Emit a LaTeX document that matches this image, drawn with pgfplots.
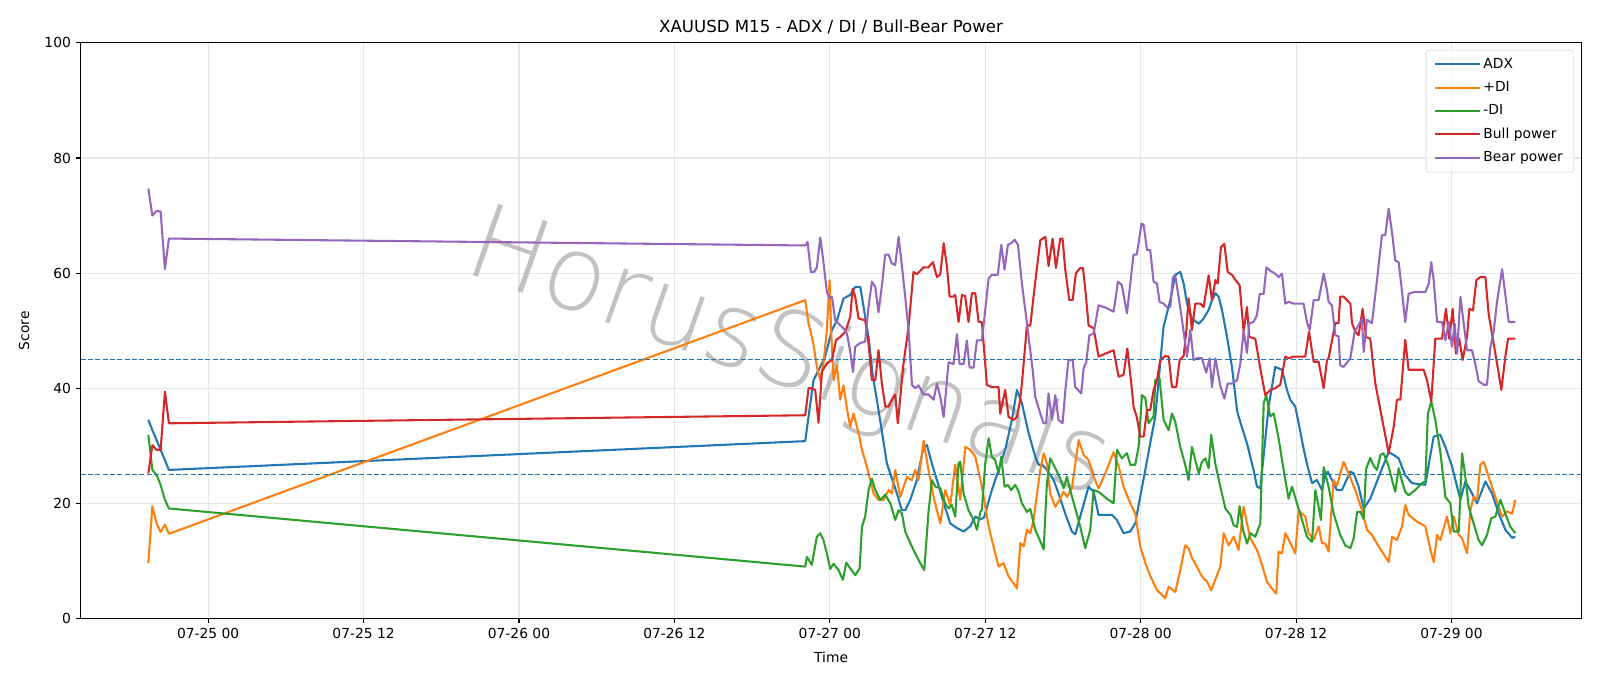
\documentclass[border=0pt]{standalone}
\usepackage{fontspec}
\setmainfont{DejaVu Sans}
\newfontfamily\wmfont{DejaVu Sans ExtraLight}
\usepackage{pgfplots}
\pgfplotsset{compat=1.18}
\definecolor{C0}{HTML}{1F77B4}
\definecolor{C1}{HTML}{FF7F0E}
\definecolor{C2}{HTML}{2CA02C}
\definecolor{C3}{HTML}{D62728}
\definecolor{C4}{HTML}{9467BD}
\begin{document}
\begin{tikzpicture}
\path[use as bounding box] (-0.806in,-0.676in) rectangle (15.194in,6.184in);
\begin{axis}[
  at={(0,0)}, anchor=south west,
  scale only axis, width=15.01in, height=5.755in,
  xmin=-57.85, xmax=58.05, ymin=0, ymax=100,
  xtick={-48,-36,-24,-12,0,12,24,36,48},
  xticklabels={07-25 00,07-25 12,07-26 00,07-26 12,07-27 00,07-27 12,07-28 00,07-28 12,07-29 00},
  ytick={0,20,40,60,80,100},
  /pgf/number format/assume math mode=true,
  tick align=outside, tick pos=left,
  major tick length=3.5pt,
  every tick/.style={black, line width=0.8pt},
  grid=major, grid style={line width=0.8pt, black!10},
  axis line style={line width=0.8pt},
  ticklabel style={font=\fontsize{10}{12}\selectfont},
  label style={font=\fontsize{10}{12}\selectfont},
  xlabel={Time}, ylabel={Score},
  xlabel style={yshift=-3pt},
  ylabel style={yshift=4pt},
  title={XAUUSD M15 - ADX / DI / Bull-Bear Power},
  title style={font=\fontsize{12}{14}\selectfont, yshift=-3pt},
  legend cell align=left,
  legend style={at={(0.995,0.988)}, anchor=north east, draw=black!20, rounded corners=2pt,
    fill=white, fill opacity=0.8, text opacity=1,
    font=\fontsize{10}{12}\selectfont, row sep=4pt, inner xsep=6pt, inner ysep=4pt},
  legend image code/.code={\draw[#1] (0pt,0pt) -- (24pt,0pt); \path (0pt,0pt) -- (32pt,0pt);},
  every axis plot/.append style={line width=1.5pt, line join=round},
]
\node[rotate=-19.5, text=black!40, opacity=0.6, font=\wmfont\fontsize{75}{75}\selectfont] at (axis cs:-3.2,45.4) {HorusSignals};

\addplot[C0] coordinates {
(-52.62,34.5) (-52.31,32.7) (-51.98,31.0) (-51.67,29.3) (-51.34,27.5) (-51.03,25.8)
(-1.9,30.8) (-1.26,41.4) (-0.74,43.7) (-0.36,45.5) (0.16,50.1) (0.55,51.8) (1.06,55.6) (1.58,56.2) (1.96,57.6) (2.35,57.6) (2.48,55.9) (2.73,52.4) (2.99,48.9) (3.3,42.5) (3.76,36.2) (4.41,26.9) (5.18,21.7) (5.56,18.8) (5.82,18.8) (6.21,20.6) (6.72,24.05) (7.24,29.8) (7.5,30.1) (7.88,26.9) (8.27,24.05) (8.79,20.0) (9.3,16.5) (9.81,15.7) (10.33,15.1) (10.84,16.0) (11.23,17.7) (11.62,17.2) (11.9,17.5) (12.51,22.3) (13.03,25.8) (13.54,29.3) (14.06,34.5) (14.45,39.7) (14.83,37.4) (15.35,32.2) (15.86,28.1) (16.12,26.7) (16.4,26.7) (16.76,25.8) (17.28,24.05) (17.66,21.7) (18.18,18.2) (18.69,15.1) (18.95,14.6) (19.47,18.8) (19.98,22.9) (20.37,22.0) (20.75,18.0) (21.78,18.0) (22.17,17.1) (22.68,14.8) (23.2,15.1) (23.58,16.5) (23.97,21.2) (24.36,25.8) (24.74,30.5) (25.13,35.1) (25.77,50.7) (26.29,55.3) (26.67,59.7) (27.06,60.2) (27.32,58.2) (27.58,54.7) (27.96,52.1) (28.48,51.2) (28.86,52.1) (29.25,53.6) (29.51,55.3) (29.77,56.5) (30.02,55.9) (30.28,53.6) (30.67,48.9) (31.05,43.7) (31.44,36.2) (31.56,35.1) (32.21,30.4) (32.72,25.8) (32.98,22.9) (33.24,22.6) (33.88,36.8) (34.39,43.7) (34.91,43.2) (35.3,39.7) (35.55,38.0) (35.94,36.8) (36.2,33.9) (36.6,29.3) (36.84,26.9) (37.23,23.5) (37.61,24.05) (38.0,22.3) (38.26,25.0) (38.45,25.5) (38.77,24.05) (39.15,22.3) (39.54,22.3) (40.19,25.5) (40.45,25.2) (40.83,22.9) (41.22,19.1) (41.73,20.8) (42.38,24.6) (43.15,28.9) (43.54,28.4) (43.92,27.8) (44.43,24.9) (44.95,23.5) (45.98,23.2) (46.37,28.4) (46.63,31.6) (47.14,31.9) (47.53,29.8) (48.04,26.4) (48.69,20.6) (49.07,23.8) (49.59,21.7) (49.97,20.0) (50.62,23.8) (51.13,21.7) (51.65,18.2) (52.16,15.4) (52.68,14.0) (52.93,14.2)
};
\addlegendentry{ADX}

\addplot[C1] coordinates {
(-52.62,9.6) (-52.31,19.5) (-51.98,16.5) (-51.67,15.0) (-51.34,16.3) (-51.03,14.7)
(-1.9,55.3) (-1.64,51.2) (-1.5,50.0) (-1.26,47.6) (-1.0,43.7) (-0.74,41.4) (-0.49,44.3) (-0.23,50.1) (-0.02,58.8) (0.1,50.0) (0.29,41.4) (0.55,44.0) (0.8,38.0) (1.06,40.5) (1.32,36.5) (1.57,33.3) (1.83,35.6) (2.22,32.2) (2.48,29.3) (2.86,26.4) (3.12,24.05) (3.38,21.7) (3.76,20.6) (4.15,20.6) (4.54,22.3) (4.79,21.7) (5.05,25.8) (5.44,21.1) (5.95,24.6) (6.33,24.0) (6.59,25.8) (6.85,24.05) (7.24,30.9) (7.62,25.8) (8.01,21.1) (8.53,16.5) (8.91,22.3) (9.3,19.7) (9.68,26.7) (10.07,20.6) (10.46,29.8) (10.84,29.3) (11.23,28.1) (11.74,22.9) (12.26,16.0) (12.64,12.5) (13.03,9.0) (13.41,9.6) (13.8,7.3) (14.19,6.1) (14.45,5.2) (14.71,13.1) (14.97,12.5) (15.22,15.4) (15.48,14.8) (15.74,17.2) (16.0,21.7) (16.25,25.8) (16.51,28.7) (16.76,26.9) (17.02,21.7) (17.41,19.4) (17.79,20.8) (18.05,22.0) (18.31,21.1) (18.69,22.6) (19.21,31.0) (19.6,28.4) (19.98,27.5) (20.37,24.6) (20.75,22.6) (21.27,25.2) (21.91,28.9) (22.3,26.4) (22.68,22.9) (23.2,20.0) (23.58,18.2) (23.97,12.5) (24.36,9.6) (24.74,7.4) (25.26,4.9) (25.64,4.1) (25.9,3.5) (26.16,5.5) (26.67,4.6) (27.06,8.4) (27.44,12.7) (27.7,12.2) (27.96,10.5) (28.35,9.0) (28.73,7.3) (29.12,6.4) (29.45,4.9) (29.76,6.7) (30.15,9.0) (30.41,14.8) (30.8,12.7) (31.18,14.2) (31.56,11.9) (31.95,19.4) (32.21,16.5) (32.47,13.9) (32.98,11.9) (33.37,9.3) (33.75,6.4) (34.14,5.2) (34.47,4.3) (34.65,11.6) (34.91,11.3) (35.17,14.8) (35.55,13.1) (35.94,11.3) (36.2,18.8) (36.46,18.2) (36.71,17.7) (36.97,14.8) (37.36,13.7) (37.74,16.0) (38.0,13.1) (38.25,13.0) (38.51,11.6) (38.77,20.0) (38.9,24.05) (39.15,23.0) (39.67,27.2) (40.06,25.2) (40.57,22.3) (41.09,18.8) (41.47,15.4) (41.86,14.5) (42.38,12.5) (43.15,9.8) (43.41,14.2) (43.79,13.6) (44.18,16.0) (44.43,19.7) (44.69,18.0) (45.33,16.8) (45.98,16.0) (46.37,11.9) (46.63,9.8) (46.89,14.5) (47.14,13.6) (47.65,17.7) (47.91,14.8) (48.17,17.7) (48.56,14.5) (48.82,13.9) (49.2,11.3) (49.46,18.8) (49.71,21.1) (49.97,20.6) (50.23,26.7) (50.49,27.2) (50.87,24.6) (51.39,21.1) (51.91,17.7) (52.29,18.6) (52.68,18.2) (52.93,20.6)
};
\addlegendentry{+DI}

\addplot[C2] coordinates {
(-52.62,31.9) (-52.31,25.8) (-51.98,24.9) (-51.67,23.2) (-51.34,20.6) (-51.03,19.1)
(-1.9,9.0) (-1.77,10.7) (-1.39,9.3) (-1.0,14.2) (-0.74,14.8) (-0.49,13.6) (-0.23,11.3) (0.03,8.6) (0.29,9.5) (0.67,8.4) (1.01,6.7) (1.27,9.7) (1.57,8.7) (1.96,7.5) (2.3,8.7) (2.48,15.9) (2.73,17.7) (2.99,22.3) (3.25,24.3) (3.51,22.3) (3.89,20.6) (4.28,21.5) (4.67,20.0) (5.05,17.1) (5.31,18.8) (5.57,18.2) (5.82,15.1) (6.21,13.1) (6.59,11.3) (6.98,9.6) (7.29,8.4) (7.62,18.5) (7.88,24.0) (8.14,22.9) (8.53,22.6) (8.91,20.0) (9.17,19.1) (9.42,19.7) (9.68,17.7) (9.94,27.0) (10.07,27.2) (10.33,21.7) (10.71,18.8) (11.1,17.1) (11.36,15.4) (11.62,18.5) (11.74,18.8) (12.0,26.9) (12.26,31.3) (12.51,28.1) (12.77,27.5) (13.03,25.2) (13.24,28.1) (13.49,22.9) (13.75,23.2) (14.0,22.3) (14.32,23.2) (14.58,22.0) (14.83,20.0) (15.22,18.5) (15.48,19.0) (15.86,15.4) (16.25,13.4) (16.51,12.0) (16.76,23.5) (17.02,27.8) (17.41,26.1) (17.79,24.3) (18.05,22.6) (18.31,24.6) (18.56,22.3) (18.95,19.1) (19.34,15.9) (19.72,12.2) (20.11,15.4) (20.37,22.3) (20.75,22.0) (21.4,20.8) (21.91,20.0) (22.17,29.3) (22.55,27.8) (22.94,28.7) (23.2,26.7) (23.58,26.7) (23.84,29.8) (24.1,38.8) (24.36,38.3) (24.61,33.9) (25.0,35.1) (25.13,41.4) (25.46,41.7) (25.77,34.5) (26.16,32.7) (26.42,35.6) (26.67,34.2) (27.06,29.8) (27.44,26.7) (27.7,24.05) (27.96,29.8) (28.22,27.5) (28.48,25.2) (28.73,27.2) (28.99,27.8) (29.25,26.1) (29.45,31.9) (29.76,26.9) (30.15,22.9) (30.54,19.1) (30.93,18.0) (31.18,16.2) (31.44,15.9) (31.64,19.5) (31.9,15.4) (32.21,13.0) (32.47,14.8) (32.85,14.2) (33.24,16.5) (33.5,37.4) (33.7,38.8) (34.01,35.1) (34.27,35.6) (34.65,31.3) (35.04,25.8) (35.42,20.8) (35.68,22.9) (36.07,20.0) (36.46,17.1) (36.84,14.2) (37.23,13.3) (37.49,22.3) (37.74,19.4) (37.92,17.1) (38.13,26.3) (38.51,22.9) (38.9,18.2) (39.41,14.5) (39.8,12.7) (40.19,12.2) (40.45,13.9) (40.71,18.5) (40.97,18.5) (41.22,17.3) (41.4,25.9) (41.73,27.9) (41.99,26.5) (42.25,25.8) (42.51,28.4) (42.76,28.7) (43.15,26.4) (43.41,24.05) (43.66,22.0) (43.92,26.1) (44.18,23.8) (44.43,22.0) (44.69,21.4) (45.2,22.3) (45.72,23.5) (45.98,23.8) (46.18,35.6) (46.44,37.7) (46.75,34.5) (47.14,28.9) (47.53,21.1) (47.91,20.0) (48.17,15.1) (48.56,15.1) (48.82,28.7) (49.07,24.6) (49.33,19.4) (49.71,16.5) (50.1,13.6) (50.36,12.7) (50.74,14.5) (51.07,17.4) (51.39,17.7) (51.78,20.6) (52.16,18.2) (52.55,15.9) (52.93,14.8)
};
\addlegendentry{-DI}

\addplot[C3] coordinates {
(-52.62,25.2) (-52.31,30.1) (-51.98,29.3) (-51.67,29.3) (-51.34,39.4) (-51.03,33.9)
(-1.9,35.3) (-1.64,40.0) (-1.38,40.0) (-1.13,39.7) (-0.87,34.0) (-0.61,42.9) (-0.23,44.3) (0.16,44.9) (0.49,48.4) (0.8,48.9) (1.19,49.8) (1.58,52.4) (1.76,57.3) (1.96,55.9) (2.22,52.1) (2.73,51.8) (2.99,47.8) (3.25,41.4) (3.51,41.4) (3.76,46.6) (4.02,40.8) (4.28,36.8) (4.54,36.8) (4.79,38.0) (5.05,38.9) (5.25,33.9) (5.69,44.3) (6.08,50.7) (6.46,60.2) (6.72,59.8) (7.24,61.0) (7.62,61.0) (7.96,61.9) (8.27,59.3) (8.53,59.8) (8.79,65.2) (9.04,61.2) (9.25,55.9) (9.5,55.9) (9.68,56.2) (9.94,51.5) (10.2,56.2) (10.45,56.0) (10.71,51.5) (10.97,56.5) (11.23,56.5) (11.49,51.5) (11.74,51.5) (12.13,40.55) (12.51,40.2) (13.03,40.2) (13.16,35.6) (13.54,39.7) (13.8,35.0) (14.19,34.5) (14.45,35.0) (14.7,38.0) (14.83,40.8) (15.22,50.9) (15.48,50.9) (15.86,58.5) (16.25,65.7) (16.64,66.3) (16.89,61.2) (17.2,66.0) (17.46,60.9) (17.79,66.0) (17.97,66.0) (18.18,60.6) (18.49,55.3) (18.75,55.3) (19.0,60.0) (19.34,60.9) (19.55,60.9) (19.78,55.9) (19.98,50.9) (20.37,50.4) (20.75,45.5) (21.27,46.0) (21.91,46.6) (22.3,42.0) (22.68,42.3) (22.97,46.9) (23.28,40.8) (23.45,36.8) (23.7,35.0) (23.97,31.6) (24.23,31.6) (24.49,36.2) (24.74,36.2) (25.0,39.7) (25.26,41.4) (25.51,44.9) (25.9,45.6) (26.16,45.5) (26.42,40.2) (26.75,40.2) (27.01,44.9) (27.32,45.6) (27.53,50.1) (27.7,55.6) (27.96,50.1) (28.22,54.7) (28.6,54.7) (28.86,54.1) (29.25,59.6) (29.51,55.3) (29.77,58.8) (29.95,58.2) (30.2,64.5) (30.46,65.1) (30.72,60.2) (31.05,59.7) (31.39,58.6) (31.64,57.9) (31.95,49.8) (32.21,54.1) (32.39,48.9) (32.85,48.6) (33.24,43.4) (33.62,38.8) (34.01,39.7) (34.39,40.0) (34.78,40.6) (35.17,45.5) (35.42,45.2) (35.81,45.5) (36.45,45.5) (36.71,45.5) (37.0,49.8) (37.36,44.6) (37.74,44.6) (38.13,40.0) (38.39,44.9) (38.51,45.2) (39.03,51.3) (39.28,51.3) (39.41,55.9) (39.67,55.9) (40.19,54.7) (40.32,51.3) (40.57,49.8) (40.83,49.2) (41.14,53.8) (41.4,48.9) (41.73,48.6) (42.12,40.8) (42.51,36.2) (42.76,33.3) (43.15,28.7) (43.54,33.3) (43.79,38.0) (44.05,38.0) (44.43,48.4) (44.69,43.2) (45.2,43.2) (45.85,43.2) (46.11,41.4) (46.44,37.7) (46.75,48.6) (47.27,48.6) (47.57,53.8) (47.83,48.6) (48.09,53.8) (48.34,46.0) (48.6,48.6) (48.86,44.9) (49.2,48.9) (49.38,53.8) (49.66,53.5) (49.92,58.8) (50.23,59.3) (50.62,59.3) (50.87,52.9) (51.26,47.7) (51.6,43.2) (51.85,39.7) (52.16,45.5) (52.37,48.6) (52.93,48.6)
};
\addlegendentry{Bull power}

\addplot[C4] coordinates {
(-52.62,74.7) (-52.31,70.0) (-51.98,70.8) (-51.67,70.7) (-51.34,60.7) (-51.03,66.0)
(-1.9,64.8) (-1.72,65.4) (-1.46,60.2) (-1.21,60.2) (-1.0,61.0) (-0.74,66.2) (-0.49,61.9) (-0.23,56.7) (-0.02,55.6) (0.16,55.9) (0.42,51.8) (0.67,51.2) (1.06,50.4) (1.32,49.5) (1.58,46.3) (1.79,42.8) (1.96,47.2) (2.3,47.8) (2.73,48.1) (2.99,54.2) (3.25,58.5) (3.51,57.6) (3.76,53.2) (4.02,57.8) (4.28,63.2) (4.54,63.2) (4.79,61.7) (5.05,61.4) (5.31,66.3) (5.57,61.2) (5.82,55.9) (6.08,50.1) (6.34,40.6) (6.59,40.0) (6.85,40.5) (7.24,38.9) (7.62,38.9) (8.01,38.0) (8.27,40.8) (8.53,38.5) (8.79,35.0) (9.17,44.5) (9.55,44.2) (9.81,49.4) (10.02,44.2) (10.33,44.2) (10.58,48.3) (10.79,43.6) (11.1,43.6) (11.36,48.3) (11.74,48.3) (12.0,53.6) (12.26,59.1) (12.51,59.7) (12.97,59.7) (13.24,64.9) (13.49,60.6) (13.75,64.9) (14.01,65.2) (14.27,65.8) (14.53,64.9) (14.83,58.2) (15.09,53.6) (15.35,48.9) (15.66,43.2) (15.86,38.5) (16.25,35.6) (16.51,33.9) (16.7,33.9) (16.89,39.1) (17.15,34.5) (17.41,38.8) (17.66,34.5) (17.97,33.9) (18.2,40.0) (18.43,44.9) (18.75,44.9) (18.95,40.2) (19.41,39.1) (19.6,43.5) (19.8,44.5) (20.04,49.2) (20.37,49.5) (20.75,54.4) (21.3,54.0) (21.91,53.3) (22.25,58.5) (22.55,57.9) (22.94,53.0) (23.45,63.2) (23.7,63.2) (24.07,68.6) (24.23,68.4) (24.49,64.0) (24.74,64.0) (25.0,58.5) (25.26,58.2) (25.46,55.0) (25.77,54.7) (26.03,54.1) (26.29,54.1) (26.49,59.3) (26.67,59.6) (27.01,54.7) (27.32,49.8) (27.58,45.5) (27.83,50.1) (28.09,44.9) (28.35,45.2) (28.73,45.2) (29.06,42.7) (29.32,45.2) (29.51,40.2) (29.77,45.2) (30.15,40.4) (30.46,38.2) (30.72,40.8) (31.05,40.8) (31.44,41.4) (31.7,44.3) (31.95,50.1) (32.21,46.1) (32.39,51.3) (32.72,51.5) (32.98,52.7) (33.19,56.4) (33.5,56.4) (33.71,61.0) (34.01,60.4) (34.39,59.9) (34.65,59.3) (34.91,59.9) (35.17,54.7) (35.42,55.0) (35.81,54.7) (36.58,54.7) (36.84,51.5) (37.05,50.1) (37.36,55.3) (37.74,55.3) (38.13,59.9) (38.39,57.0) (38.51,55.0) (38.77,54.4) (39.03,49.2) (39.28,49.0) (39.41,44.0) (39.67,43.7) (40.19,45.2) (40.52,49.8) (40.83,51.0) (41.09,52.0) (41.22,46.3) (41.47,51.9) (41.86,51.3) (42.25,58.8) (42.63,66.6) (42.89,66.6) (43.15,71.2) (43.41,67.0) (43.66,62.2) (43.92,61.9) (44.18,56.8) (44.43,51.5) (44.69,56.4) (45.07,56.7) (45.98,56.7) (46.24,58.1) (46.44,61.9) (46.63,58.7) (46.89,51.5) (47.27,51.5) (47.53,48.3) (47.79,51.5) (48.04,47.2) (48.25,51.2) (48.43,46.0) (48.69,55.9) (48.95,51.2) (49.2,46.6) (49.58,46.6) (49.84,44.2) (50.1,41.2) (50.49,40.6) (50.74,40.6) (51.0,47.0) (51.26,49.9) (51.52,55.1) (51.91,60.7) (52.42,51.5) (52.93,51.5)
};
\addlegendentry{Bear power}

\addplot[C0, line width=1pt, dash pattern=on 3.7pt off 1.6pt, forget plot] coordinates {(-57.85,45) (58.05,45)};
\addplot[C0, line width=1pt, dash pattern=on 3.7pt off 1.6pt, forget plot] coordinates {(-57.85,25) (58.05,25)};
\end{axis}
\end{tikzpicture}
\end{document}
